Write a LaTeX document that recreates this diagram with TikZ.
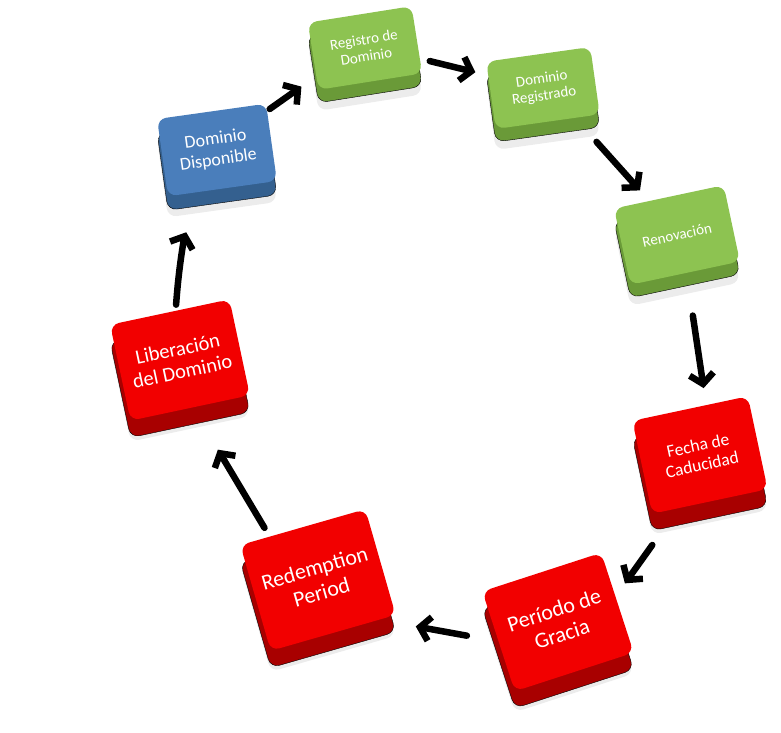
\documentclass[tikz,border=0pt]{standalone}
\usepackage{fontspec}
\setmainfont{Carlito}
\usetikzlibrary{arrows.meta,shadows}
\definecolor{KeyRed}{HTML}{F20000}
\definecolor{KeyRedDark}{HTML}{A80000}
\definecolor{KeyGreen}{HTML}{8DC351}
\definecolor{KeyGreenDark}{HTML}{6A9A38}
\definecolor{KeyBlue}{HTML}{4A7EBB}
\definecolor{KeyBlueDark}{HTML}{34608F}
\tikzset{key/.style={rounded corners=9pt,align=center,text=white,inner sep=3pt,drop shadow={opacity=.15,shadow xshift=0pt,shadow yshift=-21pt}},
redkey/.style={key,fill=KeyRed,copy shadow={fill=KeyRedDark,shadow xshift=0pt,shadow yshift=-17pt}},
greenkey/.style={key,fill=KeyGreen,copy shadow={fill=KeyGreenDark,shadow xshift=0pt,shadow yshift=-13pt}},
bluekey/.style={key,fill=KeyBlue,copy shadow={fill=KeyBlueDark,shadow xshift=0pt,shadow yshift=-14pt}},
arr/.style={-{Straight Barb[length=10pt,width=24pt]},line width=6.5pt,line cap=round}}
\begin{document}
\begin{tikzpicture}[x=1pt,y=-1pt]
\useasboundingbox (0,0) rectangle (781,732);
\node[bluekey,minimum width=110pt,minimum height=78pt,rotate=8,font=\fontsize{18}{21}\selectfont] (disp) at (217,150) {Dominio\\Disponible};
\node[greenkey,minimum width=105pt,minimum height=68pt,rotate=9,font=\fontsize{15}{17}\selectfont] (reg) at (365,48) {Registro de\\Dominio};
\node[greenkey,minimum width=105pt,minimum height=68pt,rotate=8,font=\fontsize{15}{17}\selectfont] (regd) at (543,88) {Dominio\\Registrado};
\node[greenkey,minimum width=112pt,minimum height=78pt,rotate=12,font=\fontsize{15}{17}\selectfont] (renov) at (677,235) {Renovación};
\node[redkey,minimum width=118pt,minimum height=95pt,rotate=12,font=\fontsize{17.5}{20}\selectfont] (fecha) at (700,455) {Fecha de\\Caducidad};
\node[redkey,minimum width=125pt,minimum height=105pt,rotate=18,font=\fontsize{22}{25}\selectfont] (gracia) at (558,622) {Período de\\Gracia};
\node[redkey,minimum width=130pt,minimum height=110pt,rotate=16,font=\fontsize{22}{25}\selectfont] (redem) at (318,580) {Redemption\\Period};
\node[redkey,minimum width=122pt,minimum height=98pt,rotate=12,font=\fontsize{20.5}{23}\selectfont] (liber) at (180,360) {Liberación\\del Dominio};
\draw[arr,shorten <=3pt,shorten >=18pt] (disp.30) -- (reg.201);
\draw[arr,shorten <=10pt,shorten >=13pt] (reg.-20) -- (regd.159);
\draw[arr,shorten <=32pt,shorten >=14pt] (regd.-51) -- (renov.117);
\draw[arr,shorten <=43pt,shorten >=17pt] (renov.-88) -- (fecha.71);
\draw[arr,shorten <=45pt,shorten >=16pt] (fecha.-124) -- (gracia.6);
\draw[arr,shorten <=32pt,shorten >=37pt] (gracia.180) -- (redem.-49);
\draw[arr,shorten <=10pt,shorten >=49pt] (redem.122) -- (liber.-87);
\draw[arr,shorten <=6pt,shorten >=43pt] (liber.83) to[bend left=8] (disp.-119);
\end{tikzpicture}
\end{document}
